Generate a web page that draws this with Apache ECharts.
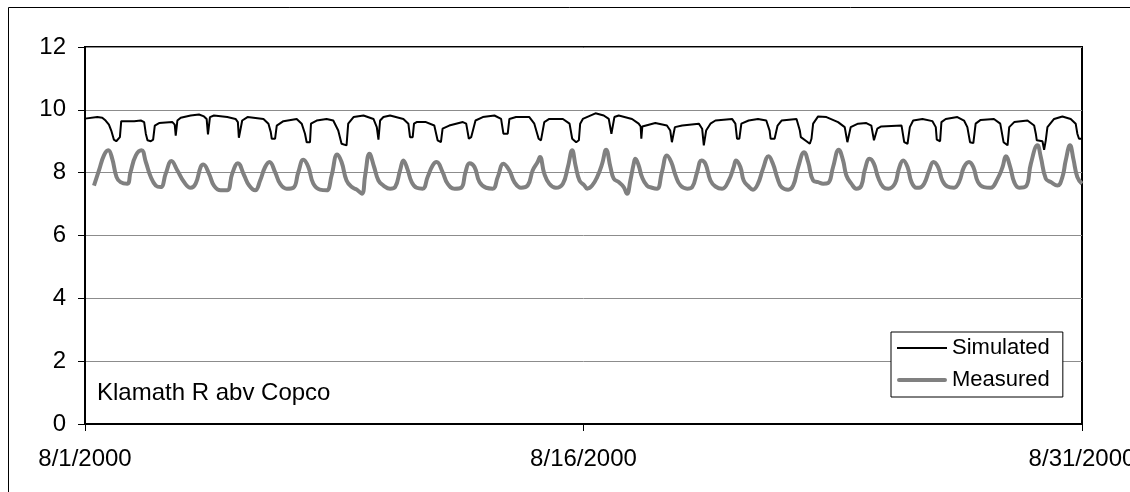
<!DOCTYPE html>
<html>
<head>
<meta charset="utf-8">
<script src="https://cdn.jsdelivr.net/npm/echarts@6/dist/echarts.min.js"></script>
<style>
  html, body { margin: 0; padding: 0; background: #fff; }
  #chart { width: 1130px; height: 492px; }
</style>
</head>
<body>
<div id="chart"></div>
<script>
// Klamath R abv Copco, August 2000: simulated vs measured series (x = days since 8/1/2000)
const xTickLabels = ['8/1/2000', '8/16/2000', '8/31/2000'];
const yTicks = [0, 2, 4, 6, 8, 10, 12];
const seriesNames = ['Simulated', 'Measured'];
const stationLabel = 'Klamath R abv Copco';

const simDays = [
  0.00, 0.37, 0.52, 0.62, 0.72, 0.79, 0.87, 0.94, 1.00, 1.05, 1.09, 1.48, 1.68, 1.78, 1.83, 1.88, 1.98, 2.05, 2.10, 2.23,
  2.63, 2.70, 2.73, 2.76, 2.78, 2.88, 3.18, 3.43, 3.58, 3.66, 3.70, 3.73, 3.76, 3.88, 4.28, 4.53, 4.60, 4.63, 4.69, 4.73,
  4.89, 5.37, 5.52, 5.59, 5.62, 5.72, 5.77, 5.97, 6.37, 6.52, 6.62, 6.67, 6.77, 6.80, 6.97, 7.27, 7.47, 7.62, 7.72, 7.87,
  7.92, 8.08, 8.38, 8.68, 8.78, 8.83, 8.88, 8.98, 9.18, 9.58, 9.73, 9.78, 9.86, 9.90, 9.98, 10.26, 10.51, 10.61, 10.71, 10.76,
  10.96, 11.37, 11.47, 11.55, 11.62, 11.75, 11.97, 12.32, 12.52, 12.59, 12.72, 12.77, 12.97, 13.37, 13.52, 13.65, 13.72, 13.82, 13.97, 14.38,
  14.58, 14.66, 14.78, 14.86, 14.90, 14.98, 15.36, 15.61, 15.76, 15.84, 15.89, 15.93, 16.06, 16.46, 16.66, 16.72, 16.74, 16.77, 16.81, 17.16,
  17.51, 17.61, 17.66, 17.75, 17.97, 18.47, 18.57, 18.62, 18.69, 18.82, 18.97, 19.47, 19.57, 19.62, 19.69, 19.75, 19.97, 20.25, 20.50, 20.60,
  20.63, 20.75, 20.84, 20.96, 21.41, 21.51, 21.54, 21.71, 21.81, 21.86, 21.91, 22.06, 22.31, 22.66, 22.86, 22.94, 22.98, 23.04, 23.26, 23.51,
  23.66, 23.74, 23.79, 23.84, 23.96, 24.57, 24.65, 24.75, 24.82, 24.92, 25.20, 25.50, 25.60, 25.63, 25.73, 25.77, 25.90, 26.25, 26.45, 26.55,
  26.63, 26.73, 26.80, 26.95, 27.35, 27.54, 27.64, 27.76, 27.81, 27.96, 28.36, 28.56, 28.61, 28.64, 28.81, 28.86, 28.91, 28.96, 29.16, 29.41,
  29.66, 29.81, 29.86, 29.91, 29.98
];
const simValues = [
  9.72, 9.77, 9.75, 9.66, 9.53, 9.34, 9.05, 9.00, 9.05, 9.13, 9.64, 9.64, 9.66, 9.61, 9.24, 9.03, 9.00, 9.05, 9.50, 9.58,
  9.61, 9.53, 9.18, 9.24, 9.66, 9.75, 9.82, 9.85, 9.79, 9.71, 9.22, 9.18, 9.77, 9.82, 9.77, 9.71, 9.61, 9.11, 9.08, 9.66,
  9.77, 9.71, 9.56, 9.29, 9.08, 9.08, 9.50, 9.64, 9.71, 9.56, 9.24, 8.97, 8.97, 9.56, 9.66, 9.71, 9.66, 9.34, 8.92, 8.87,
  9.56, 9.77, 9.82, 9.71, 9.45, 9.05, 9.66, 9.77, 9.82, 9.71, 9.56, 9.13, 9.13, 9.56, 9.61, 9.61, 9.50, 9.03, 8.97, 9.40,
  9.50, 9.61, 9.56, 9.08, 9.13, 9.66, 9.77, 9.82, 9.71, 9.24, 9.24, 9.71, 9.77, 9.77, 9.56, 9.08, 9.03, 9.61, 9.71, 9.71,
  9.56, 9.08, 8.97, 9.03, 9.56, 9.71, 9.89, 9.82, 9.71, 9.24, 9.24, 9.77, 9.82, 9.71, 9.56, 9.47, 9.08, 9.47, 9.53, 9.58,
  9.50, 9.34, 8.97, 9.45, 9.50, 9.56, 9.40, 8.87, 9.34, 9.56, 9.66, 9.71, 9.56, 9.08, 9.08, 9.56, 9.66, 9.71, 9.66, 9.34,
  9.08, 9.08, 9.50, 9.66, 9.71, 9.34, 9.13, 9.00, 8.92, 9.08, 9.56, 9.79, 9.77, 9.61, 9.45, 8.97, 8.97, 9.45, 9.56, 9.58,
  9.50, 9.03, 9.03, 9.40, 9.47, 9.50, 8.97, 8.92, 9.45, 9.66, 9.71, 9.64, 9.45, 9.05, 9.00, 9.61, 9.71, 9.77, 9.66, 9.45,
  8.97, 8.94, 9.56, 9.68, 9.71, 9.56, 8.97, 8.87, 9.45, 9.61, 9.66, 9.50, 9.24, 9.03, 9.00, 8.73, 9.03, 9.45, 9.71, 9.79,
  9.71, 9.56, 9.24, 9.08, 9.08
];

const measDays = [
  0.27, 0.42, 0.57, 0.70, 0.82, 0.95, 1.07, 1.27, 1.37, 1.53, 1.70, 1.83, 1.98, 2.13, 2.28, 2.43, 2.60, 2.78, 2.98, 3.18,
  3.33, 3.48, 3.56, 3.73, 3.88, 4.08, 4.28, 4.43, 4.60, 4.79, 4.94, 5.12, 5.27, 5.42, 5.55, 5.72, 5.87, 6.07, 6.27, 6.42,
  6.57, 6.72, 6.87, 7.07, 7.27, 7.42, 7.59, 7.72, 7.87, 8.03, 8.18, 8.33, 8.43, 8.56, 8.70, 8.83, 8.98, 9.18, 9.33, 9.48,
  9.58, 9.70, 9.83, 9.98, 10.16, 10.31, 10.46, 10.58, 10.76, 10.91, 11.12, 11.32, 11.45, 11.57, 11.72, 11.87, 12.07, 12.27, 12.42, 12.59,
  12.77, 12.92, 13.12, 13.32, 13.47, 13.62, 13.69, 13.82, 13.97, 14.17, 14.38, 14.53, 14.66, 14.76, 14.88, 15.03, 15.11, 15.26, 15.41, 15.56,
  15.68, 15.81, 15.91, 16.06, 16.21, 16.31, 16.41, 16.51, 16.56, 16.66, 16.76, 16.91, 17.06, 17.21, 17.36, 17.51, 17.64, 17.77, 17.92, 18.12,
  18.27, 18.42, 18.55, 18.67, 18.82, 18.97, 19.17, 19.37, 19.52, 19.59, 19.72, 19.82, 19.97, 20.10, 20.25, 20.40, 20.57, 20.70, 20.84, 20.96,
  21.16, 21.31, 21.46, 21.64, 21.76, 21.91, 22.06, 22.21, 22.36, 22.51, 22.68, 22.81, 22.91, 23.06, 23.21, 23.36, 23.46, 23.61, 23.74, 23.86,
  24.02, 24.17, 24.37, 24.49, 24.62, 24.75, 24.87, 25.02, 25.10, 25.25, 25.40, 25.53, 25.67, 25.80, 25.95, 26.15, 26.30, 26.45, 26.60, 26.73,
  26.87, 27.05, 27.25, 27.46, 27.61, 27.71, 27.84, 27.96, 28.11, 28.31, 28.46, 28.66, 28.76, 28.91, 29.06, 29.26, 29.41, 29.51, 29.64, 29.74,
  29.86, 30.00
];
const measValues = [
  7.59, 8.07, 8.55, 8.71, 8.44, 7.86, 7.70, 7.65, 8.02, 8.55, 8.71, 8.34, 7.86, 7.59, 7.54, 7.97, 8.37, 8.07, 7.70, 7.52,
  7.65, 8.18, 8.26, 7.97, 7.59, 7.44, 7.44, 7.97, 8.30, 7.91, 7.59, 7.44, 7.75, 8.18, 8.34, 8.02, 7.65, 7.49, 7.52, 8.02,
  8.41, 8.18, 7.65, 7.46, 7.44, 7.91, 8.58, 8.34, 7.75, 7.54, 7.46, 7.33, 7.91, 8.60, 8.18, 7.75, 7.59, 7.49, 7.54, 8.07,
  8.39, 8.12, 7.70, 7.52, 7.49, 7.86, 8.23, 8.34, 8.02, 7.65, 7.49, 7.52, 8.02, 8.30, 8.18, 7.70, 7.52, 7.49, 7.86, 8.28,
  8.07, 7.70, 7.52, 7.59, 8.07, 8.34, 8.50, 7.97, 7.65, 7.52, 7.65, 8.18, 8.71, 8.23, 7.75, 7.59, 7.49, 7.59, 7.86, 8.28,
  8.73, 8.18, 7.81, 7.70, 7.54, 7.33, 7.75, 8.28, 8.44, 8.23, 7.86, 7.59, 7.52, 7.49, 8.02, 8.55, 8.34, 7.91, 7.59, 7.49,
  7.54, 8.02, 8.39, 8.28, 7.75, 7.56, 7.49, 7.75, 8.18, 8.39, 8.18, 7.75, 7.56, 7.46, 7.65, 8.12, 8.52, 8.28, 7.81, 7.54,
  7.46, 7.59, 8.18, 8.65, 8.34, 7.75, 7.70, 7.65, 7.67, 8.18, 8.73, 8.39, 7.91, 7.65, 7.49, 7.59, 8.07, 8.44, 8.28, 7.86,
  7.54, 7.49, 7.65, 8.12, 8.39, 8.18, 7.70, 7.52, 7.52, 7.65, 8.07, 8.34, 8.18, 7.75, 7.56, 7.52, 7.70, 8.18, 8.34, 8.18,
  7.70, 7.54, 7.52, 7.81, 8.18, 8.52, 8.18, 7.70, 7.52, 7.56, 8.28, 8.87, 8.50, 7.81, 7.70, 7.59, 7.86, 8.39, 8.87, 8.44,
  7.86, 7.65
];

const pairs = (xs, ys) => xs.map((x, i) => [x, ys[i]]);
const FONT = '"Liberation Sans", Arial, sans-serif';

// Legend swatches: a plain bar inside an invisible 50x14 frame so the bar keeps its thickness
const thinSwatch = 'path://M0,0h0.01v0.01h-0.01zM0,6h50v2h-50zM49.99,13.99h0.01v0.01h-0.01z';
const thickSwatch = 'path://M0,0h0.01v0.01h-0.01zM2,5h46a2,2 0 0 1 0,4h-46a2,2 0 0 1 0,-4zM49.99,13.99h0.01v0.01h-0.01z';

const chart = echarts.init(document.getElementById('chart'), null, { renderer: 'canvas' });
chart.setOption({
  animation: false,
  backgroundColor: '#fff',
  textStyle: { fontFamily: FONT, color: '#000' },
  grid: {
    left: 85, right: 48, top: 47, bottom: 68,
    outerBoundsMode: 'none', containLabel: false,
    show: true, borderColor: '#000', borderWidth: 2, backgroundColor: 'transparent'
  },
  xAxis: {
    type: 'value', min: 0, max: 30, interval: 15,
    axisLine: { show: true, lineStyle: { color: '#000', width: 2 } },
    axisTick: { show: true, length: 7, lineStyle: { color: '#000', width: 1 } },
    splitLine: { show: false },
    axisLabel: {
      margin: 23, fontSize: 24, fontFamily: FONT, color: '#000',
      formatter: v => xTickLabels[Math.round(v / 15)] || ''
    }
  },
  yAxis: {
    type: 'value', min: yTicks[0], max: yTicks[yTicks.length - 1], interval: 2,
    axisLine: { show: true, lineStyle: { color: '#000', width: 2 } },
    axisTick: { show: true, length: 7, lineStyle: { color: '#000', width: 1 } },
    splitLine: { show: true, lineStyle: { color: '#8c8c8c', width: 1 } },
    axisLabel: { margin: 19, fontSize: 24, fontFamily: FONT, color: '#000' }
  },
  legend: {
    orient: 'vertical', left: 891, top: 332,
    backgroundColor: '#fff', borderColor: '#000', borderWidth: 1,
    padding: [5, 13, 6, 6], itemGap: 10, itemWidth: 50, itemHeight: 14,
    textStyle: { fontSize: 22, fontFamily: FONT, color: '#000' },
    data: [
      { name: seriesNames[0], icon: thinSwatch, itemStyle: { color: '#000', borderWidth: 0 } },
      { name: seriesNames[1], icon: thickSwatch, itemStyle: { color: '#808080', borderWidth: 0 } }
    ]
  },
  series: [
    {
      name: seriesNames[1], type: 'line', symbol: 'none', z: 2,
      smooth: 0.45,
      lineStyle: { color: '#808080', width: 4 }, itemStyle: { color: '#808080' },
      data: pairs(measDays, measValues)
    },
    {
      name: seriesNames[0], type: 'line', symbol: 'none', z: 3,
      lineStyle: { color: '#000', width: 2 }, itemStyle: { color: '#000' },
      data: pairs(simDays, simValues)
    }
  ],
  graphic: [
    {
      type: 'rect', silent: true, z: -1,
      shape: { x: 8.5, y: 7.5, width: 1200, height: 600 },
      style: { fill: 'transparent', stroke: '#000', lineWidth: 1 }
    },
    {
      type: 'text', left: 97, top: 381,
      style: { text: stationLabel, font: '24px ' + FONT, fill: '#000' }
    }
  ]
});
</script>
</body>
</html>
